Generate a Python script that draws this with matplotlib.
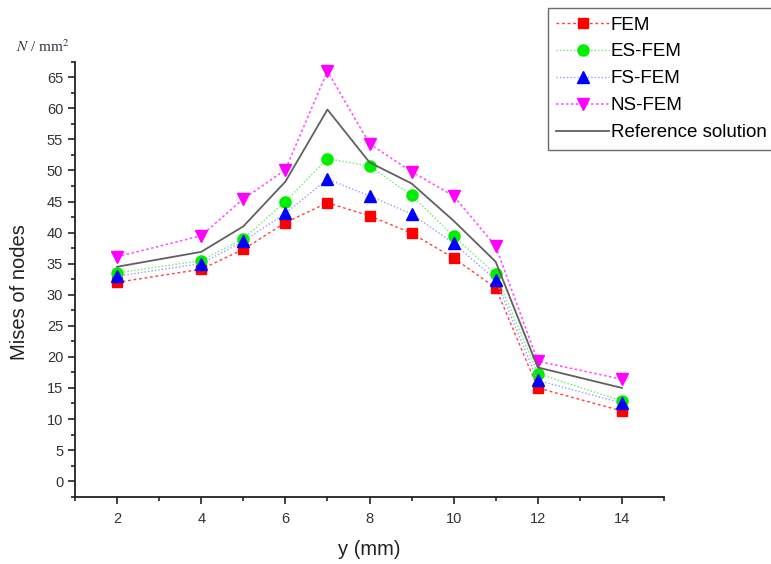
import matplotlib
matplotlib.use("Agg")
import matplotlib.pyplot as plt
from matplotlib.ticker import MultipleLocator

plt.rcParams['font.family'] = ['Liberation Sans', 'DejaVu Sans']
plt.rcParams['mathtext.fontset'] = 'stix'

x = [2, 4, 5, 6, 7, 8, 9, 10, 11, 12, 14]
fem = [32.0, 34.1, 37.3, 41.6, 44.8, 42.7, 39.9, 35.9, 31.1, 15.0, 11.3]
es_fem = [33.5, 35.5, 39.0, 45.0, 51.9, 50.7, 46.0, 39.4, 33.3, 17.3, 12.9]
fs_fem = [33.0, 35.0, 38.6, 43.1, 48.6, 45.9, 43.0, 38.3, 32.4, 16.2, 12.6]
ns_fem = [36.1, 39.5, 45.4, 50.1, 66.0, 54.3, 49.8, 45.9, 37.8, 19.3, 16.4]
ref = [34.5, 36.9, 41.0, 48.2, 59.8, 51.3, 47.9, 41.9, 35.3, 18.3, 15.0]

fig = plt.figure(figsize=(7.71, 5.64), dpi=100)
ax = fig.add_axes([75/771, 1-496.7/564, 589/771, 435/564])

ax.plot(x, fem, color='#ff4040', linestyle=(0, (2, 2)), linewidth=1.0,
        marker='s', markersize=7, markerfacecolor='red', markeredgecolor='red', label='FEM')
ax.plot(x, es_fem, color='#66ee66', linestyle=(0, (1, 1.5)), linewidth=1.0,
        marker='o', markersize=8, markerfacecolor='#00ee00', markeredgecolor='#00ee00', label='ES-FEM')
ax.plot(x, fs_fem, color='#9999ff', linestyle=(0, (1, 1.5)), linewidth=1.0,
        marker='^', markersize=8.5, markerfacecolor='blue', markeredgecolor='blue', label='FS-FEM')
ax.plot(x, ns_fem, color='#ff55ff', linestyle=(0, (1.5, 1.5)), linewidth=1.2,
        marker='v', markersize=8.5, markerfacecolor='magenta', markeredgecolor='magenta', label='NS-FEM')
ax.plot(x, ref, color='#606060', linestyle='-', linewidth=1.3, label='Reference solution')

ax.set_xlim(1, 15)
ax.set_ylim(-2.5, 67.5)
ax.xaxis.set_major_locator(MultipleLocator(2))
ax.xaxis.set_minor_locator(MultipleLocator(1))
ax.yaxis.set_major_locator(MultipleLocator(5))
ax.yaxis.set_minor_locator(MultipleLocator(2.5))
ax.tick_params(which='major', direction='out', length=5, width=1.2, labelsize=10.5,
               colors='#222222', labelcolor='#333333')
ax.tick_params(which='minor', direction='out', length=3, width=1.2, colors='#222222')
ax.tick_params(axis='x', pad=6)
for s in ['top', 'right']:
    ax.spines[s].set_visible(False)
for s in ['left', 'bottom']:
    ax.spines[s].set_linewidth(1.3)
    ax.spines[s].set_color('#222222')

ax.set_xlabel('y (mm)', fontsize=14.5, color='#222222', labelpad=10)
ax.set_ylabel('Mises of nodes', fontsize=14.5, color='#222222')
ax.yaxis.set_label_coords((20 - 75) / 589, (496.7 - 292) / 435)
ax.yaxis.label.set_va('center')

fig.text(16/771, 1-47/564, r'$N$ / mm$^2$', fontsize=11, color='#333344',
         va='center', ha='left',
         fontdict={'family': ['Liberation Serif', 'DejaVu Serif']})

leg = fig.legend(loc='upper left', bbox_to_anchor=(548/771, 1-8/564), fontsize=13.5,
                 frameon=True, fancybox=False, edgecolor='#444444', handlelength=2.8,
                 handletextpad=0.1, borderpad=0.45, labelspacing=0.52, borderaxespad=0)
leg.get_frame().set_linewidth(1.0)

fig.savefig('out.png', dpi=100)
